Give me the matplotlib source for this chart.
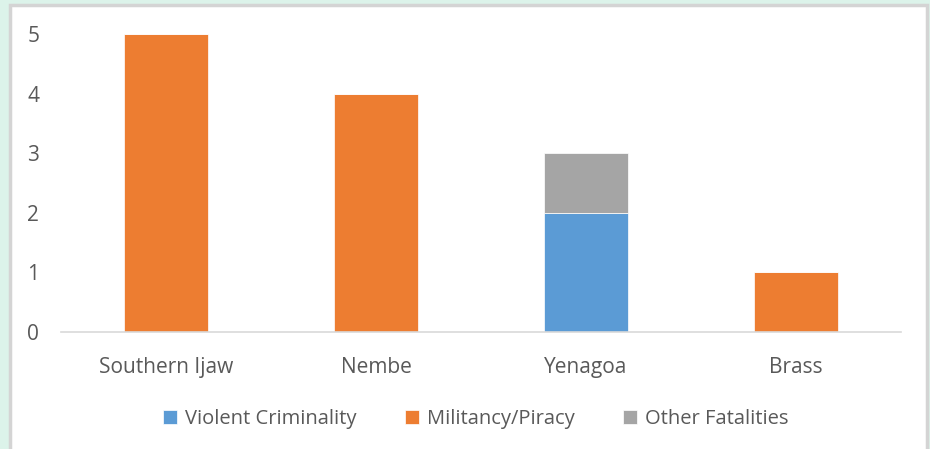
import matplotlib
matplotlib.use("Agg")
import matplotlib.pyplot as plt
from matplotlib.patches import Rectangle

categories = ["Southern Ijaw", "Nembe", "Yenagoa", "Brass"]
violent = [0, 0, 2, 0]
militancy = [5, 4, 0, 1]
other = [0, 0, 1, 0]
series_names = ["Violent Criminality", "Militancy/Piracy", "Other Fatalities"]
colors = ["#5b9bd5", "#ed7d31", "#a5a5a5"]
yticks = [0, 1, 2, 3, 4, 5]

W, H = 930, 449
fig = plt.figure(figsize=(W / 100, H / 100), dpi=100)
fig.patch.set_facecolor("#dcf3ea")
fig.patches.append(Rectangle((10 / W, -0.05), (927 - 10) / W, (H - 5) / H + 0.05,
                             transform=fig.transFigure, facecolor="white",
                             edgecolor="#d4d4d4", linewidth=2.5, zorder=-5))

plt.rcParams['font.family'] = ['Open Sans', 'DejaVu Sans']
tc = "#595959"

ax = fig.add_axes([61 / W, 1 - 332 / H, (901 - 61) / W, (332 - 34) / H])
ax.set_zorder(2)
ax.set_facecolor("none")
x = list(range(len(categories)))
bw = 0.4
bottom = [0] * len(categories)
for vals, name, c in zip([violent, militancy, other], series_names, colors):
    ax.bar(x, vals, bw, bottom=bottom, color=c, label=name,
           edgecolor="white", linewidth=0.5)
    bottom = [b + v for b, v in zip(bottom, vals)]

ax.set_xlim(-0.5, len(categories) - 0.5)
ax.set_ylim(0, 5)
ax.set_yticks(yticks)
ax.set_xticks(x)
ax.set_xticklabels(categories)
ax.tick_params(axis="both", length=0, labelsize=15, colors=tc)
ax.tick_params(axis="x", pad=18)
ax.tick_params(axis="y", pad=20)
for s in ["top", "right", "left"]:
    ax.spines[s].set_visible(False)
ax.spines["bottom"].set_color("#d9d9d9")
ax.spines["bottom"].set_linewidth(1.2)
for lbl in ax.get_yticklabels():
    lbl.set_horizontalalignment("center")

leg = fig.legend(loc="center", bbox_to_anchor=(476 / W, 1 - 419 / H), ncol=3,
                 frameon=False, fontsize=14.5, handlelength=0.7, handleheight=0.7,
                 handletextpad=0.4, columnspacing=2.4)
leg.set_zorder(3)
for t in leg.get_texts():
    t.set_color(tc)

fig.savefig("out.png", dpi=100, facecolor=fig.get_facecolor())
